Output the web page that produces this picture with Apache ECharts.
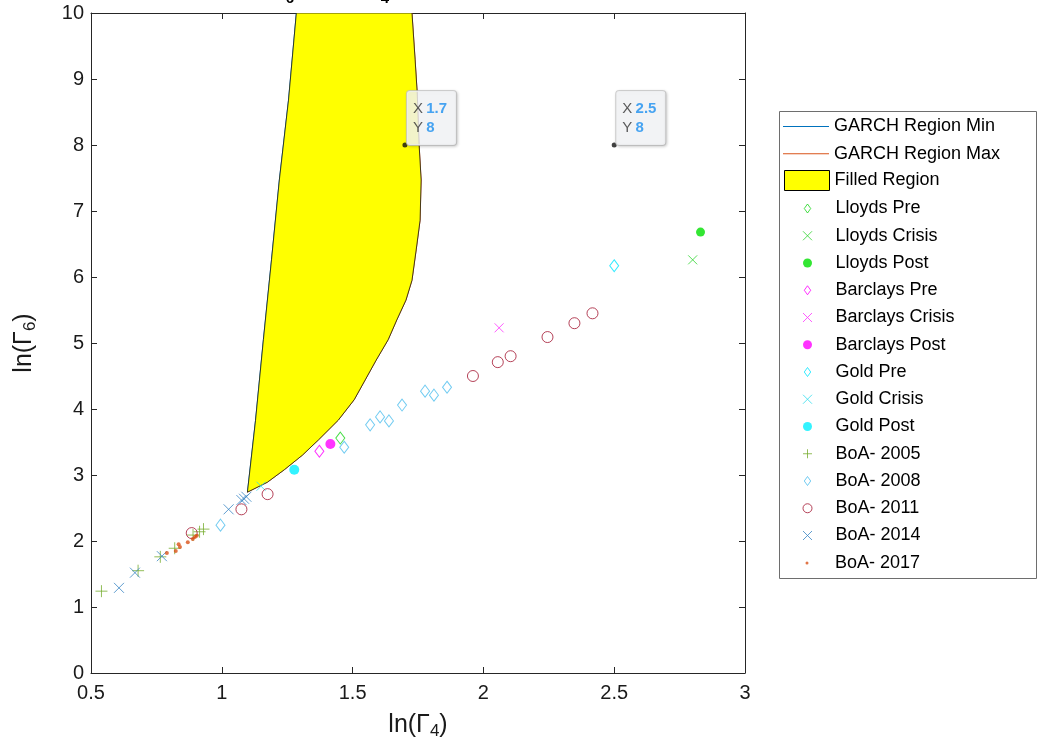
<!DOCTYPE html>
<html><head><meta charset="utf-8">
<script src="https://cdn.jsdelivr.net/npm/echarts@6/dist/echarts.min.js"></script>
<style>html,body{margin:0;padding:0;background:#fff}#c{width:1039px;height:752px}</style>
</head><body><div id="c"></div>
<script>
// ---- data ----
const xTicks = [0.5, 1, 1.5, 2, 2.5, 3];
const yTicks = [0, 1, 2, 3, 4, 5, 6, 7, 8, 9, 10];

const regionMinX = [1.098, 1.129, 1.159, 1.190, 1.220, 1.255, 1.285];
const regionMinY = [2.74, 3.83, 5.05, 6.26, 7.47, 8.68, 10.0];
const regionMaxX = [1.098, 1.174, 1.239, 1.308, 1.369, 1.445, 1.506, 1.548, 1.590, 1.636, 1.669, 1.704, 1.727, 1.743, 1.758, 1.762, 1.754, 1.747, 1.739, 1.727];
const regionMaxY = [2.74, 2.89, 3.08, 3.30, 3.53, 3.83, 4.14, 4.44, 4.74, 5.05, 5.35, 5.65, 5.95, 6.41, 6.86, 7.47, 8.02, 8.79, 9.29, 10.0];

const lloydsPre = [[1.453, 3.56]];
const lloydsCrisis = [[2.80, 6.26]];
const lloydsPost = [[2.83, 6.68]];
const barclaysPre = [[1.373, 3.36]];
const barclaysCrisis = [[2.06, 5.23]];
const barclaysPost = [[1.415, 3.47]];
const goldPre = [[2.50, 6.17]];
const goldCrisis = [[1.15, 2.83]];
const goldPost = [[1.277, 3.08]];
const boa2005 = [[0.54, 1.24], [0.68, 1.55], [0.765, 1.76], [0.82, 1.89], [0.89, 2.09], [0.915, 2.14], [0.93, 2.18]];
const boa2008 = [[0.995, 2.24], [1.468, 3.42], [1.567, 3.76], [1.605, 3.88], [1.639, 3.82], [1.689, 4.06], [1.777, 4.27], [1.811, 4.21], [1.861, 4.33]];
const boa2011 = [[0.885, 2.12], [1.075, 2.48], [1.175, 2.71], [1.96, 4.50], [2.055, 4.71], [2.104, 4.80], [2.245, 5.09], [2.348, 5.30], [2.417, 5.45]];
const boa2014 = [[0.607, 1.29], [0.668, 1.52], [0.771, 1.77], [1.026, 2.48], [1.075, 2.62], [1.094, 2.67], [1.085, 2.64]];
const boa2017 = [[0.79, 1.82], [0.824, 1.85], [0.835, 1.95], [0.84, 1.91], [0.87, 1.98], [0.889, 2.03], [0.897, 2.06], [0.904, 2.08]];

const tipX = [1.7, 2.5];
const tipY = [8, 8];

// ---- chart ----
const FONT = 'Liberation Sans, Helvetica, Arial, sans-serif';
const SYM_X = 'path://M0,0L10,10M10,0L0,10';
const SYM_PLUS = 'path://M5,0L5,10M0,5L10,5';
const SYM_DIAMOND = 'path://M5,0L10,7L5,14L0,7Z';

function zip(a, b) { return a.map((v, i) => [v, b[i]]); }

function sc(name, data, symbol, size, color, filled) {
  return {
    type: 'scatter', name, data, symbol, symbolSize: size, z: 4, silent: true,
    itemStyle: filled ? { color: color } : { color: 'rgba(0,0,0,0)', borderColor: color, borderWidth: 1 }
  };
}

const polygonPts = zip(regionMinX, regionMinY).concat(zip(regionMaxX, regionMaxY).reverse());

const axisCommon = {
  type: 'value', splitLine: { show: false },
  axisLine: { show: true, onZero: false, lineStyle: { color: '#262626', width: 1 } },
  axisTick: { show: true, inside: true, length: 6, lineStyle: { color: '#262626' } }
};

const subRich = {
  m: { fontSize: 25, fontFamily: FONT, color: '#1a1a1a', verticalAlign: 'top', lineHeight: 27 },
  s: { fontSize: 17, fontFamily: FONT, color: '#1a1a1a', verticalAlign: 'bottom', lineHeight: 19, padding: [14, 0, 0, 0] }
};

const chart = echarts.init(document.getElementById('c'), null, { renderer: 'canvas' });

const markerNames = ['Lloyds Pre', 'Lloyds Crisis', 'Lloyds Post', 'Barclays Pre', 'Barclays Crisis', 'Barclays Post',
  'Gold Pre', 'Gold Crisis', 'Gold Post', 'BoA- 2005', 'BoA- 2008', 'BoA- 2011', 'BoA- 2014'];

const legendBase = {
  orient: 'vertical', left: 783, padding: 0, itemWidth: 46, itemGap: 9.2, selectedMode: false,
  textStyle: { fontSize: 18, color: '#000', fontFamily: FONT },
  itemStyle: { borderWidth: 1 }
};

chart.setOption({
  animation: false,
  backgroundColor: '#fff',
  grid: { left: 89, right: 294, top: 13, bottom: 79, containLabel: false },
  xAxis: [
    Object.assign({}, axisCommon, {
      min: xTicks[0], max: xTicks[xTicks.length - 1], interval: xTicks[1] - xTicks[0], position: 'bottom',
      axisLabel: { fontSize: 20, color: '#1a1a1a', margin: 10, fontFamily: FONT },
      name: '{m|ln(Γ}{s|4}{m|)}', nameLocation: 'middle', nameGap: 40,
      nameTextStyle: { rich: subRich }
    }),
    Object.assign({}, axisCommon, {
      min: xTicks[0], max: xTicks[xTicks.length - 1], interval: xTicks[1] - xTicks[0], position: 'top',
      axisLabel: { show: false }
    })
  ],
  yAxis: [
    Object.assign({}, axisCommon, {
      min: yTicks[0], max: yTicks[yTicks.length - 1], interval: yTicks[1] - yTicks[0], position: 'left',
      axisLabel: { fontSize: 20, color: '#1a1a1a', margin: 7, fontFamily: FONT },
      name: '{m|ln(Γ}{s|6}{m|)}', nameLocation: 'middle', nameGap: 52, nameRotate: 90,
      nameTextStyle: { rich: subRich }
    }),
    Object.assign({}, axisCommon, {
      min: yTicks[0], max: yTicks[yTicks.length - 1], interval: yTicks[1] - yTicks[0], position: 'right',
      axisLabel: { show: false }
    })
  ],
  legend: [
    Object.assign({}, legendBase, { top: 117.5, itemHeight: 1, itemGap: 9.2, itemStyle: { borderWidth: 0 },
      data: [{ name: 'GARCH Region Min', icon: 'rect' }, { name: 'GARCH Region Max', icon: 'rect' }] }),
    Object.assign({}, legendBase, { top: 170, left: 784, itemWidth: 45, itemHeight: 20,
      data: [{ name: 'Filled Region', icon: 'rect', itemStyle: { color: '#ffff00', borderColor: '#000', borderWidth: 1 } }] }),
    Object.assign({}, legendBase, { top: 199.5, left: 802.5, itemHeight: 9, itemGap: 9.25, data: markerNames }),
    Object.assign({}, legendBase, { top: 554, left: 805.5, itemHeight: 3, data: ['BoA- 2017'] })
  ],
  graphic: [
    { type: 'rect', shape: { x: 779.5, y: 111.5, width: 257, height: 467 }, style: { fill: 'none', stroke: '#6e6e6e', lineWidth: 1 }, z: 0 },
    { type: 'text', style: { x: 285, y: 0, text: 'ln Γ', font: 'bold 18px ' + FONT, fill: '#000', align: 'right', verticalAlign: 'bottom' } },
    { type: 'text', style: { x: 290, y: 6, text: '6', font: 'bold 15px ' + FONT, fill: '#000', align: 'center', verticalAlign: 'bottom' } },
    { type: 'text', style: { x: 296, y: 0, text: ' versus ln Γ', font: 'bold 18px ' + FONT, fill: '#000', align: 'left', verticalAlign: 'bottom' } },
    { type: 'text', style: { x: 385, y: 6, text: '4', font: 'bold 15px ' + FONT, fill: '#000', align: 'center', verticalAlign: 'bottom' } }
  ],
  series: [
    { type: 'line', name: 'GARCH Region Min', data: zip(regionMinX, regionMinY), symbol: 'none', showSymbol: false, silent: true,
      lineStyle: { color: '#0072BD', width: 1 }, itemStyle: { color: '#0072BD' }, z: 1 },
    { type: 'line', name: 'GARCH Region Max', data: zip(regionMaxX, regionMaxY), symbol: 'none', showSymbol: false, silent: true,
      lineStyle: { color: '#D95319', width: 1 }, itemStyle: { color: '#D95319' }, z: 1 },
    { type: 'custom', name: 'Filled Region', clip: true, silent: true, z: 2,
      itemStyle: { color: '#ffff00' },
      data: [polygonPts[0]],
      renderItem: function (params, api) {
        if (params.dataIndex !== 0) return null;
        const pts = polygonPts.map(p => api.coord(p));
        return { type: 'polygon', shape: { points: pts }, style: { fill: '#ffff00', stroke: '#1a1a1a', lineWidth: 0.8 } };
      }
    },
    sc('Lloyds Pre', lloydsPre, SYM_DIAMOND, [9, 12], '#19d419', false),
    sc('Lloyds Crisis', lloydsCrisis, SYM_X, 9, '#2fd62f', false),
    sc('Lloyds Post', lloydsPost, 'circle', 9, '#00e000', true),
    sc('Barclays Pre', barclaysPre, SYM_DIAMOND, [9, 12], '#ff00ff', false),
    sc('Barclays Crisis', barclaysCrisis, SYM_X, 9, '#ff33ff', false),
    sc('Barclays Post', barclaysPost, 'circle', 10, '#ff00ff', true),
    sc('Gold Pre', goldPre, SYM_DIAMOND, [9, 12], '#00e5ff', false),
    sc('Gold Crisis', goldCrisis, SYM_X, 9, '#33ddee', false),
    sc('Gold Post', goldPost, 'circle', 10, '#00f0ff', true),
    sc('BoA- 2005', boa2005, SYM_PLUS, 12, '#77AC30', false),
    sc('BoA- 2008', boa2008, SYM_DIAMOND, [9, 12], '#4DBEEE', false),
    sc('BoA- 2011', boa2011, 'circle', 11, '#A2142F', false),
    sc('BoA- 2014', boa2014, SYM_X, 10, '#3a86c4', false),
    sc('BoA- 2017', boa2017, 'circle', 4, '#D95319', true),
    { type: 'scatter', name: 'tips', data: zip(tipX, tipY), symbol: 'circle', symbolSize: 5, z: 10, silent: true,
      itemStyle: { color: '#111' },
      label: {
        show: true, position: [4.5, -51.5], align: 'left', verticalAlign: 'top',
        formatter: p => '{k|X} {v|' + p.value[0] + '}\n{k|Y} {v|' + p.value[1] + '}',
        backgroundColor: '#f8f9fb', borderColor: '#c8c8c8', borderWidth: 1, borderRadius: 3,
        padding: [8, 9, 8, 6],
        shadowColor: 'rgba(0,0,0,0.18)', shadowBlur: 3, shadowOffsetX: 1, shadowOffsetY: 1,
        rich: {
          k: { fontSize: 15, color: '#333', lineHeight: 19, fontFamily: FONT },
          v: { fontSize: 15, fontWeight: 'bold', color: '#1a8ff0', lineHeight: 19, fontFamily: FONT }
        }
      }
    }
  ]
});
</script>
</body></html>
